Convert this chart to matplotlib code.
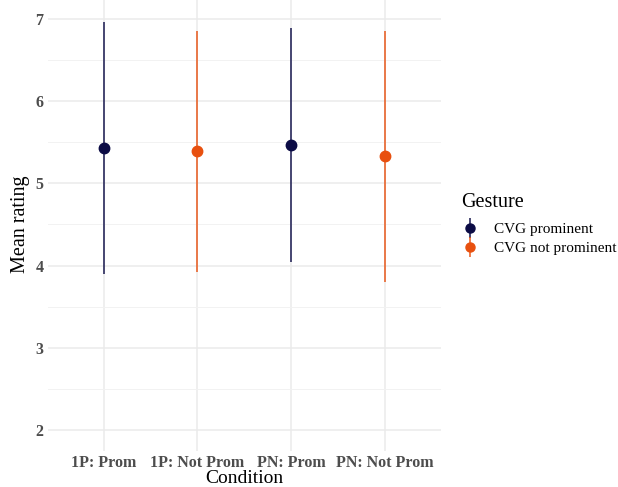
import numpy as np
import matplotlib
matplotlib.use("Agg")
import matplotlib.pyplot as plt
from matplotlib.lines import Line2D
from matplotlib.legend_handler import HandlerTuple

# ── Data ─────────────────────────────────────────────────────────────────────
conditions = ["1P: Prom", "1P: Not Prom", "PN: Prom", "PN: Not Prom"]
gesture = ["CVG prominent", "CVG not prominent", "CVG prominent", "CVG not prominent"]
mean_rating = [5.43, 5.39, 5.47, 5.33]
lower = [3.90, 3.92, 4.04, 3.80]
upper = [6.96, 6.85, 6.89, 6.85]

gesture_levels = ["CVG prominent", "CVG not prominent"]
colors = {"CVG prominent": "#0B0B45", "CVG not prominent": "#E8500F"}

# ── Plot ─────────────────────────────────────────────────────────────────────
plt.rcParams["font.family"] = ["Liberation Serif", "DejaVu Serif"]

fig = plt.figure(figsize=(6.18, 4.87), dpi=100)
ax = fig.add_axes([47.6 / 618, 36.5 / 487, (441 - 47.6) / 618, (450.5 + 1.5) / 487])

x = np.arange(1, len(conditions) + 1)
for xi, g, m, lo, hi in zip(x, gesture, mean_rating, lower, upper):
    c = colors[g]
    ax.plot([xi, xi], [lo, hi], color=c, lw=1.3, alpha=0.8, zorder=3,
            solid_capstyle="butt")
    ax.plot(xi, m, "o", color=c, ms=7.5, zorder=4)

ax.set_xlim(0.4, 4.6)
ax.set_ylim(1.75, 7.25)
ax.set_xticks(x)
ax.set_xticklabels(conditions, fontsize=11.5, fontweight="bold", color="#4D4D4D")
ax.set_yticks([2, 3, 4, 5, 6, 7])
ax.set_yticklabels(["2", "3", "4", "5", "6", "7"], fontsize=11.5,
                   fontweight="bold", color="#4D4D4D")
ax.set_yticks([2.5, 3.5, 4.5, 5.5, 6.5], minor=True)
ax.tick_params(which="both", length=0, pad=3)
ax.grid(which="major", color="#EBEBEB", lw=1.1)
ax.grid(which="minor", axis="y", color="#F2F2F2", lw=0.7)
ax.set_axisbelow(True)
for s in ax.spines.values():
    s.set_visible(False)

ax.set_xlabel("Condition", fontsize=14, labelpad=-0.6)
ax.set_ylabel("Mean rating", fontsize=14.5, labelpad=4)

# legend keys: point with a short vertical line through it
handles = []
for g in gesture_levels:
    vline = Line2D([], [], color=colors[g], marker="|", ms=14, mew=1.3,
                   ls="none", alpha=0.8)
    dot = Line2D([], [], color=colors[g], marker="o", ms=6.5, ls="none")
    handles.append((vline, dot))
leg = fig.legend(handles, gesture_levels, title="Gesture", loc="upper left",
                 bbox_to_anchor=(447 / 618, 1 - 179 / 487), frameon=False,
                 fontsize=11, title_fontsize=14.5, handlelength=1.2,
                 handletextpad=0.95, labelspacing=0.35,
                 handler_map={tuple: HandlerTuple(ndivide=1, pad=0)})
leg._legend_box.align = "left"
leg._legend_box.sep = 7.5

fig.savefig("out.png", dpi=100)
